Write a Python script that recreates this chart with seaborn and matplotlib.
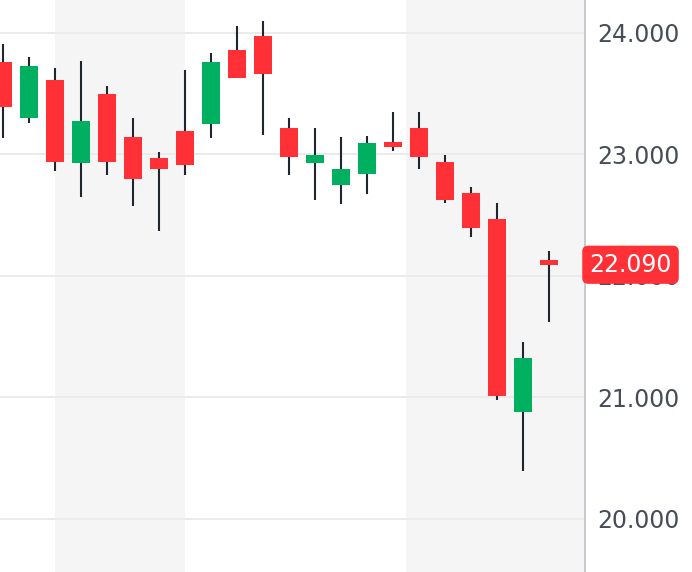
import matplotlib
matplotlib.use("Agg")
import matplotlib.pyplot as plt
import matplotlib.transforms as mtransforms
import seaborn as sns
import numpy as np
import pandas as pd

# ---- data ----
opens = [23.76, 23.30, 23.61, 22.93, 23.50, 23.14, 22.97, 23.19, 23.25, 23.86, 23.97,
         23.22, 22.93, 22.75, 22.84, 23.10, 23.22, 22.94, 22.68, 22.47, 20.88, 22.13]
highs = [23.91, 23.80, 23.71, 23.77, 23.56, 23.30, 23.02, 23.69, 23.83, 24.06, 24.10,
         23.30, 23.22, 23.14, 23.15, 23.35, 23.35, 22.99, 22.73, 22.60, 21.45, 22.20]
lows = [23.13, 23.26, 22.86, 22.65, 22.83, 22.57, 22.37, 22.83, 23.13, 23.63, 23.16,
        22.83, 22.62, 22.59, 22.67, 23.03, 22.88, 22.60, 22.32, 20.98, 20.39, 21.62]
closes = [23.39, 23.73, 22.94, 23.27, 22.94, 22.80, 22.88, 22.91, 23.76, 23.63, 23.66,
          22.98, 22.99, 22.88, 23.09, 23.06, 22.98, 22.62, 22.39, 21.01, 21.32, 22.09]
y_ticks = [20, 21, 22, 23, 24]
last_price = 22.09
bands = [(2.0, 7.0), (15.5, 23.0)]

UP = "#00B061"
DOWN = "#FF3036"
WICK = "#1F2630"

df = pd.DataFrame({"open": opens, "high": highs, "low": lows, "close": closes})
df["idx"] = np.arange(len(df))
df["up"] = df["close"] >= df["open"]
df["bottom"] = df[["open", "close"]].min(axis=1)
df["height"] = (df["open"] - df["close"]).abs()

sns.set_theme(style="white")
plt.rcParams["font.family"] = ["DejaVu Sans"]

fig = plt.figure(figsize=(6.92, 5.72), dpi=100)
ax = fig.add_axes([0, 0, 585 / 692, 1])
ax.set_facecolor("white")

for a, b in bands:
    ax.axvspan(a, b, color="#F5F5F5", zorder=0, lw=0)

ax.set_yticks(y_ticks)
ax.yaxis.grid(True, color="#EBEBEB", lw=1.4, zorder=0.5)
ax.xaxis.grid(False)

ax.vlines(df["idx"], df["low"], df["high"], color=WICK, lw=1.5, zorder=2)
colors = [UP if u else DOWN for u in df["up"]]
ax.bar(df["idx"], df["height"], bottom=df["bottom"], width=0.69,
       color=colors, zorder=3, lw=0)

ax.set_xlim(-0.115, 22.38)
ax.set_ylim(19.56, 24.27)

ax.yaxis.tick_right()
ax.set_yticklabels([f"{t:.3f}" for t in y_ticks])
ax.tick_params(axis="y", which="both", right=True, left=False, length=6,
               width=1.3, color="#DADCDF", labelsize=17, labelcolor="#474D57", pad=3)
ax.tick_params(axis="x", bottom=False, labelbottom=False)
sns.despine(ax=ax, left=True, top=True, bottom=True, right=False)
ax.spines["right"].set_color("#C6C9CD")
ax.spines["right"].set_linewidth(1.4)

trans = mtransforms.blended_transform_factory(ax.transAxes, ax.transData)
ax.text(1.0778, last_price, f"{last_price:.3f}", transform=trans, ha="center", va="center",
        fontsize=17, color="white", clip_on=False, zorder=10,
        bbox=dict(boxstyle="round,pad=0.3,rounding_size=0.25", fc=DOWN, ec="none"))

fig.savefig("out.png", dpi=100)
